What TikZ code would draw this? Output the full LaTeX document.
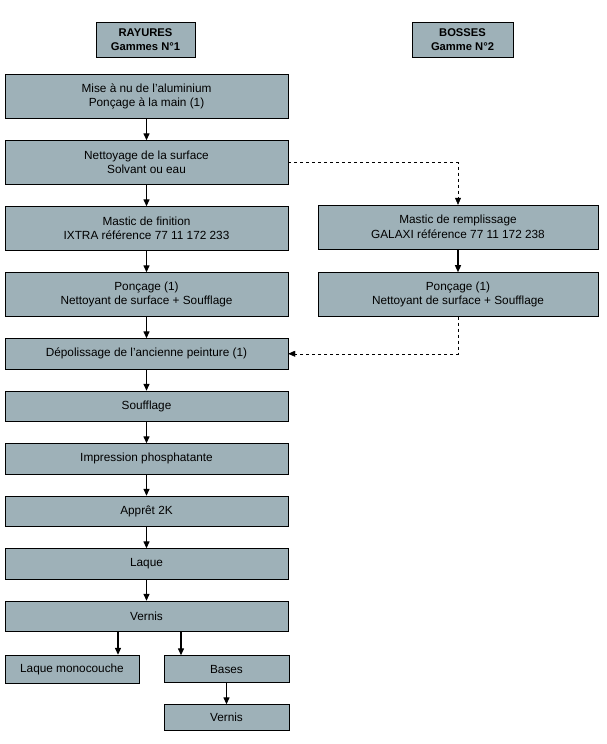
\documentclass[tikz,border=0pt]{standalone}
\usepackage{fontspec}
\setmainfont{Liberation Sans}
\usetikzlibrary{positioning,arrows.meta}
\definecolor{boxfill}{RGB}{158,177,184}
\tikzset{
	gamme/.style={draw, fill=boxfill, font=\fontsize{11.2}{13.5}\selectfont\bfseries, align=center, minimum height=35pt, inner sep=0pt},
	etape/.style={draw, fill=boxfill, align=center, minimum width=283pt, minimum height=30.5pt, inner sep=0pt},
	etapedouble/.style={etape, minimum height=44pt},
	petite/.style={draw, fill=boxfill, align=center, minimum height=27pt, inner sep=0pt}
}
\begin{document}
\begin{tikzpicture}[x=1pt, y=-1pt, node distance=21.6pt, font=\fontsize{11.8}{14.5}\selectfont, >={Triangle[length=7pt,width=6pt]}]
	\useasboundingbox (0,0) rectangle (606,744);
	\node (rayures) [gamme, minimum width=99pt] at (145.5,39.5) {RAYURES\\Gammes N°1};
	\node (bosses) [gamme, minimum width=101pt] at (462.5,39.5) {BOSSES\\Gamme N°2};
	
	\node (mise) [etapedouble] at (146.5,96.5) {Mise à nu de l'aluminium\\Ponçage à la main (1)};
	\node (nettoyage) [etapedouble, below=of mise] {Nettoyage de la surface\\Solvant ou eau};
	\node (finition) [etapedouble, below=of nettoyage] {Mastic de finition\\IXTRA référence 77 11 172 233};
	\node (poncage) [etapedouble, below=of finition] {Ponçage (1)\\Nettoyant de surface + Soufflage};
	\node (depolissage) [etape, below=of poncage] {Dépolissage de l'ancienne peinture (1)};
	\node (soufflage) [etape, below=of depolissage] {Soufflage};
	\node (impression) [etape, below=of soufflage] {Impression phosphatante};
	\node (appret) [etape, below=of impression] {Apprêt 2K};
	\node (laque) [etape, below=of appret] {Laque};
	\node (vernis) [etape, below=of laque] {Vernis};
	\node (monocouche) [petite, minimum width=134pt, minimum height=28pt] at (72,669) {Laque monocouche};
	\node (bases) [petite, minimum width=125pt] at (226.5,669) {Bases};
	\node (vernisbis) [petite, minimum width=125pt, minimum height=26pt, below=of bases] {Vernis};
	
	\node (remplissage) [etapedouble, minimum width=280pt] at (458,227) {Mastic de remplissage\\GALAXI référence 77 11 172 238};
	\node (poncagebis) [etapedouble, minimum width=280pt, below=23pt of remplissage] {Ponçage (1)\\Nettoyant de surface + Soufflage};
	
	\draw[->, line width=1.3pt] (mise) -- (nettoyage);
	\draw[->, line width=1.3pt] (nettoyage) -- (finition);
	\draw[->, line width=1.3pt] (finition) -- (poncage);
	\draw[->, line width=1.3pt] (poncage) -- (depolissage);
	\draw[->, line width=1.3pt] (depolissage) -- (soufflage);
	\draw[->, line width=1.3pt] (soufflage) -- (impression);
	\draw[->, line width=1.3pt] (impression) -- (appret);
	\draw[->, line width=1.3pt] (appret) -- (laque);
	\draw[->, line width=1.3pt] (laque) -- (vernis);
	\draw[->, line width=1.3pt] ([xshift=-28.5pt]vernis.south) -- ([xshift=-28.5pt]vernis.south |- monocouche.north);
	\draw[->, line width=1.3pt] ([xshift=34.5pt]vernis.south) -- ([xshift=34.5pt]vernis.south |- bases.north);
	\draw[->, line width=1.3pt] (bases) -- (vernisbis);
	\draw[->, line width=1.3pt] (remplissage) -- (poncagebis);
	
	\draw[->, dashed] (nettoyage.east) -| (remplissage.north);
	\draw[->, dashed] (poncagebis.south) |- (depolissage.east);
\end{tikzpicture}
\end{document}
